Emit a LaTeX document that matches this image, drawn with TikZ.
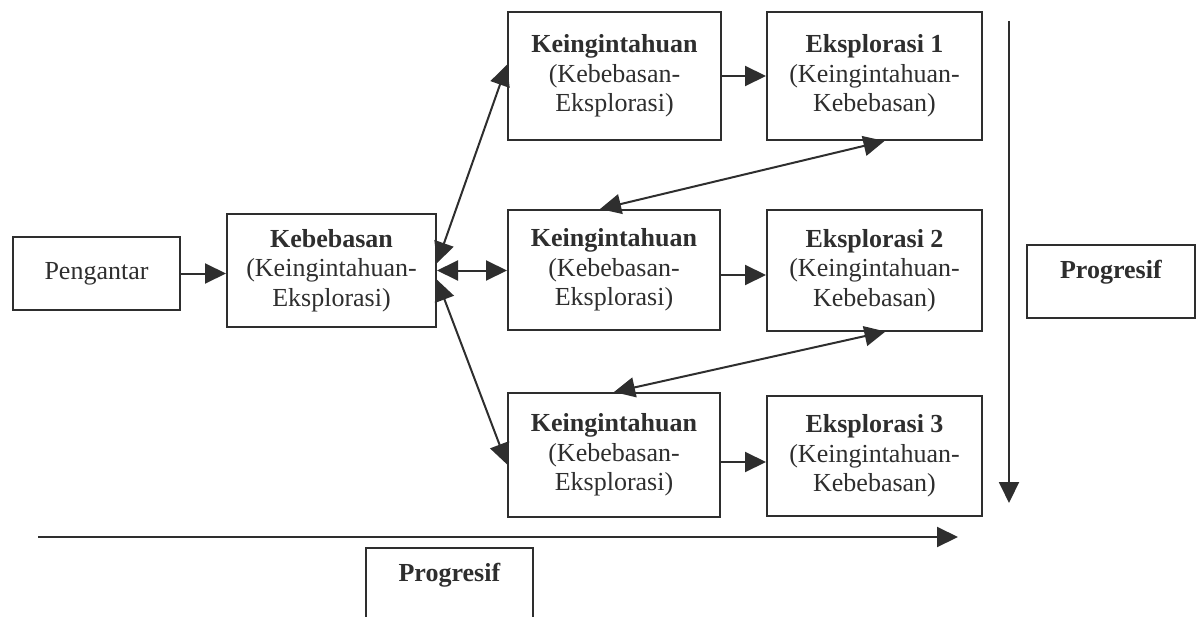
\documentclass[tikz,border=0pt]{standalone}
\usepackage{fontspec}
\setmainfont{Liberation Serif}
\usepackage{tikz}
\usetikzlibrary{arrows.meta,calc}
\definecolor{inkcolor}{HTML}{2E2E2E}
\tikzstyle{stagebox} = [
    draw=inkcolor,
    line width=1bp,
    rectangle,
    align=center,
    text=inkcolor,
    inner sep=0pt,
    font=\fontsize{13bp}{14.8bp}\selectfont
    ]
\tikzstyle{link} = [
    draw=inkcolor,
    line width=1bp,
    -{Triangle[length=10.5bp,width=10bp]}
    ]
\tikzstyle{duallink} = [
    link,
    {Triangle[length=10.5bp,width=10bp]}-{Triangle[length=10.5bp,width=10bp]}
    ]

\begin{document}
\begin{tikzpicture}[x=0.5bp, y=-0.5bp]
\useasboundingbox (0,0) rectangle (1199,616);
\clip (0,0) rectangle (1199,616);

\node[stagebox, minimum width=83.5bp, minimum height=36.5bp] (peng) at (96.5,273.5) {Pengantar};
\node[stagebox, minimum width=104.5bp, minimum height=56.5bp] (keb) at (331.5,270.5)
    {\textbf{Kebebasan}\\(Keingintahuan-\\Eksplorasi)};

% curiosity column
\node[stagebox, minimum width=106.5bp, minimum height=64bp] (kin1) at (614.5,76)
    {\textbf{Keingintahuan}\\(Kebebasan-\\Eksplorasi)};
\node[stagebox, minimum width=106bp, minimum height=60bp] (kin2) at (614,270)
    {\textbf{Keingintahuan}\\(Kebebasan-\\Eksplorasi)};
\node[stagebox, minimum width=106bp, minimum height=62bp] (kin3) at (614,455)
    {\textbf{Keingintahuan}\\(Kebebasan-\\Eksplorasi)};

% exploration column
\node[stagebox, minimum width=107.5bp, minimum height=64bp] (eks1) at (874.5,76)
    {\textbf{Eksplorasi 1}\\(Keingintahuan-\\Kebebasan)};
\node[stagebox, minimum width=107.5bp, minimum height=60bp] (eks2) at (874.5,270.5)
    {\textbf{Eksplorasi 2}\\(Keingintahuan-\\Kebebasan)};
\node[stagebox, minimum width=107.5bp, minimum height=60bp] (eks3) at (874.5,456)
    {\textbf{Eksplorasi 3}\\(Keingintahuan-\\Kebebasan)};

\node[stagebox, minimum width=84bp, minimum height=36.5bp, text depth=12bp] (prog1) at (1111,281.5)
    {\textbf{Progresif}};
\node[stagebox, minimum width=83.5bp, minimum height=41bp, text depth=16.5bp] (prog2) at (449.5,589)
    {\textbf{Progresif}};

\draw[link] (peng.east) -- (peng.east -| keb.west);
\draw[duallink] (keb.east) -- (keb.east -| kin2.west);
\draw[duallink] (keb.4) -- (kin1.174);
\draw[duallink] (keb.-5) -- (kin3.185);

\draw[link] (kin1.east) -- (eks1.west);
\draw[link] ($(kin2.east)+(0,5)$) -- ($(eks2.west)+(0,4.5)$);
\draw[link] ($(kin3.east)+(0,7)$) -- ($(eks3.west)+(0,6)$);

\draw[duallink] ($(eks1.south)+(10,0)$) -- ($(kin2.north)+(-14,0)$);
\draw[duallink] ($(eks2.south)+(11,0)$) -- (kin3.north);

% progress axes
\coordinate (downstart) at (1009,21);
\coordinate (downend) at (1009,503);
\draw[link] (downstart) -- (downend);
\coordinate (rightstart) at (38,537);
\coordinate (rightend) at (958,537);
\draw[link] (rightstart) -- (rightend);
\end{tikzpicture}
\end{document}
